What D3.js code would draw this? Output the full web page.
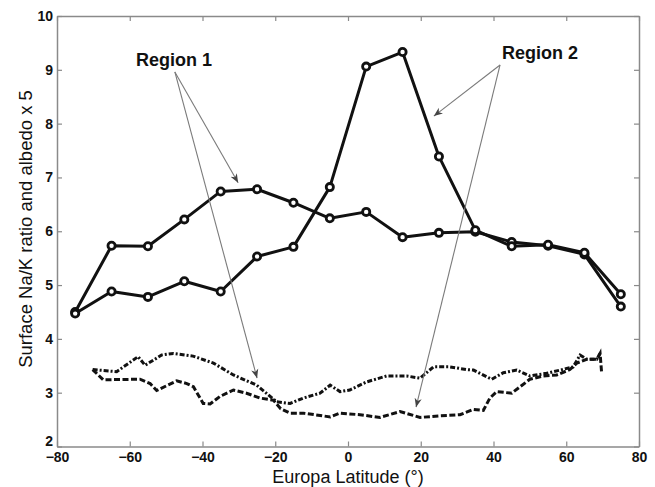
<!DOCTYPE html>
<html>
<head>
<meta charset="utf-8">
<script src="https://cdn.jsdelivr.net/npm/d3@7"></script>
<style>
  body { margin: 0; background: #fff; }
  svg { display: block; font-family: "Liberation Sans", Arial, sans-serif; }
</style>
</head>
<body>
<svg id="chart"></svg>
<script>
// latitudes of the sampled points (solid curves)
const latitudes = [-75, -65, -55, -45, -35, -25, -15, -5, 5, 15, 25, 35, 45, 55, 65, 75];
// Na/K ratio, region 1 track
const region1 = [4.50, 5.73, 5.72, 6.22, 6.74, 6.78, 6.53, 6.24, 6.36, 5.89, 5.97, 5.99, 5.80, 5.73, 5.57, 4.60];
// Na/K ratio, region 2 track
const region2 = [4.47, 4.88, 4.78, 5.07, 4.88, 5.53, 5.71, 6.82, 9.06, 9.33, 7.39, 6.02, 5.72, 5.75, 5.60, 4.83];

// albedo x 5 (dashed curves), [latitude, value]
const albedoA = [[-70.2, 3.43], [-63.6, 3.39], [-57.7, 3.67], [-55.8, 3.51], [-51.2, 3.70], [-48, 3.73],
  [-42.6, 3.68], [-37, 3.55], [-31.5, 3.33], [-25.1, 3.14], [-19.6, 2.83], [-15.9, 2.80], [-12.3, 2.90],
  [-7.7, 2.99], [-4.9, 3.14], [-2.2, 3.02], [0.5, 3.05], [5.1, 3.20], [10.6, 3.31], [16.1, 3.31],
  [19.8, 3.27], [23.5, 3.48], [28, 3.48], [32.6, 3.43], [34.5, 3.42], [39.5, 3.25], [42.7, 3.37],
  [46.4, 3.42], [50, 3.31], [54.6, 3.36], [58.3, 3.42], [61.9, 3.48], [63.8, 3.70], [65.6, 3.62],
  [68.4, 3.62], [69.3, 3.73]];
const albedoB = [[-70.2, 3.43], [-67.3, 3.24], [-57.2, 3.25], [-54.4, 3.17], [-52.6, 3.04], [-47.1, 3.22],
  [-44.3, 3.17], [-42.5, 3.11], [-39.8, 2.80], [-37.9, 2.79], [-35.2, 2.93], [-31.5, 3.05], [-27.9, 2.99],
  [-24.2, 2.90], [-20.5, 2.86], [-18.5, 2.70], [-15.9, 2.62], [-12.3, 2.62], [-4.9, 2.55], [-2.2, 2.62],
  [3.3, 2.59], [8.8, 2.54], [14.3, 2.65], [19.8, 2.54], [25.3, 2.57], [30.8, 2.59], [34.5, 2.69],
  [37.2, 2.67], [39, 2.90], [40.9, 3.02], [45, 2.99], [47.3, 3.11], [50, 3.25], [53.7, 3.31],
  [57.4, 3.33], [61, 3.43], [62.9, 3.55], [65.6, 3.62], [68.4, 3.62], [69.3, 3.73], [69.7, 3.39]];

const xTicks = [-80, -60, -40, -20, 0, 20, 40, 60, 80];
const yTicks = [2, 3, 4, 5, 6, 7, 8, 9, 10];

// annotation labels and arrows, in data units
const labels = [
  { text: "Region 1", lat: -47.8, v: 9.07 },
  { text: "Region 2", lat: 52.8, v: 9.2 }
];
const arrows = [
  { from: [-47.6, 8.96], to: [-30.2, 6.90] },
  { from: [-47.6, 8.96], to: [-25.0, 3.27] },
  { from: [41.8, 9.09], to: [23.6, 8.14] },
  { from: [41.8, 9.09], to: [18.7, 2.73] }
];

var width = 655, height = 487;
var plot = { left: 57, right: 639, top: 16, bottom: 446.5 };

const svg = d3.select("#chart")
  .attr("width", width)
  .attr("height", height);

var x = d3.scaleLinear().domain([-80, 80]).range([plot.left, plot.right]);
var y = d3.scaleLinear().domain([2, 10]).range([plot.bottom, plot.top]);

// Assi (box with inward ticks)
function styleAxis(g) {
  g.select(".domain").attr("stroke", "#8a8a8a").attr("stroke-width", 1.5);
  g.selectAll(".tick line").attr("stroke", "#8a8a8a").attr("stroke-width", 1.2);
  g.selectAll(".tick text")
    .attr("fill", "#111")
    .style("font-size", "14px")
    .style("font-weight", "bold");
}

svg.append("g")
  .attr("transform", `translate(0,${plot.bottom})`)
  .call(d3.axisBottom(x).tickValues(xTicks).tickSizeInner(-5).tickSizeOuter(0).tickPadding(6))
  .call(styleAxis);

svg.append("g")
  .attr("transform", `translate(0,${plot.top})`)
  .call(d3.axisTop(x).tickValues(xTicks).tickSizeInner(-5).tickSizeOuter(0).tickFormat(""))
  .call(styleAxis);

svg.append("g")
  .attr("transform", `translate(${plot.left},0)`)
  .call(d3.axisLeft(y).tickValues(yTicks).tickSizeInner(-5).tickSizeOuter(0).tickPadding(4))
  .call(styleAxis)
  // lift the lowest label a little so it clears "-80"
  .call(g => g.selectAll(".tick text").filter(d => d === 2).attr("y", -5));

svg.append("g")
  .attr("transform", `translate(${plot.right},0)`)
  .call(d3.axisRight(y).tickValues(yTicks).tickSizeInner(-5).tickSizeOuter(0).tickFormat(""))
  .call(styleAxis);

// axis titles
svg.append("text")
  .attr("x", (plot.left + plot.right) / 2)
  .attr("y", 483)
  .attr("text-anchor", "middle")
  .style("font-size", "18px")
  .attr("fill", "#111")
  .text("Europa Latitude (°)");

svg.append("text")
  .attr("transform", `translate(32,229) rotate(-90)`)
  .attr("text-anchor", "middle")
  .style("font-size", "18.5px")
  .attr("fill", "#111")
  .text("Surface Na/K ratio and albedo x 5");

// dashed albedo curves
var lineXY = d3.line().x(d => x(d[0])).y(d => y(d[1]));

svg.append("path")
  .datum(albedoA)
  .attr("d", lineXY)
  .attr("fill", "none")
  .attr("stroke", "#111")
  .attr("stroke-width", 3)
  .attr("stroke-dasharray", "5,2,2,2");

svg.append("path")
  .datum(albedoB)
  .attr("d", lineXY)
  .attr("fill", "none")
  .attr("stroke", "#111")
  .attr("stroke-width", 3)
  .attr("stroke-dasharray", "6,2.5");

// solid Na/K curves with markers
var lineSeries = d3.line().x((d, i) => x(latitudes[i])).y(d => y(d));

[region1, region2].forEach(series => {
  svg.append("path")
    .datum(series)
    .attr("d", lineSeries)
    .attr("fill", "none")
    .attr("stroke", "#111")
    .attr("stroke-width", 3)
    .attr("stroke-linejoin", "round");

  svg.append("g")
    .selectAll("circle")
    .data(series)
    .enter()
    .append("circle")
      .attr("cx", (d, i) => x(latitudes[i]))
      .attr("cy", d => y(d))
      .attr("r", 3.6)
      .attr("fill", "#fff")
      .attr("stroke", "#111")
      .attr("stroke-width", 2.8);
});

// arrows
svg.append("defs").append("marker")
  .attr("id", "head")
  .attr("viewBox", "0 0 10 10")
  .attr("refX", 10)
  .attr("refY", 5)
  .attr("markerWidth", 9)
  .attr("markerHeight", 9)
  .attr("markerUnits", "userSpaceOnUse")
  .attr("orient", "auto")
  .append("path")
    .attr("d", "M0,1 L10,5 L0,9 L3,5 Z")
    .attr("fill", "#444");

svg.append("g")
  .selectAll("line")
  .data(arrows)
  .enter()
  .append("line")
    .attr("x1", d => x(d.from[0]))
    .attr("y1", d => y(d.from[1]))
    .attr("x2", d => x(d.to[0]))
    .attr("y2", d => y(d.to[1]))
    .attr("stroke", "#7a7a7a")
    .attr("stroke-width", 1.1)
    .attr("marker-end", "url(#head)");

svg.append("g")
  .selectAll("text")
  .data(labels)
  .enter()
  .append("text")
    .attr("x", d => x(d.lat))
    .attr("y", d => y(d.v))
    .attr("text-anchor", "middle")
    .style("font-size", "18px")
    .style("font-weight", "bold")
    .attr("fill", "#111")
    .text(d => d.text);
</script>
</body>
</html>
